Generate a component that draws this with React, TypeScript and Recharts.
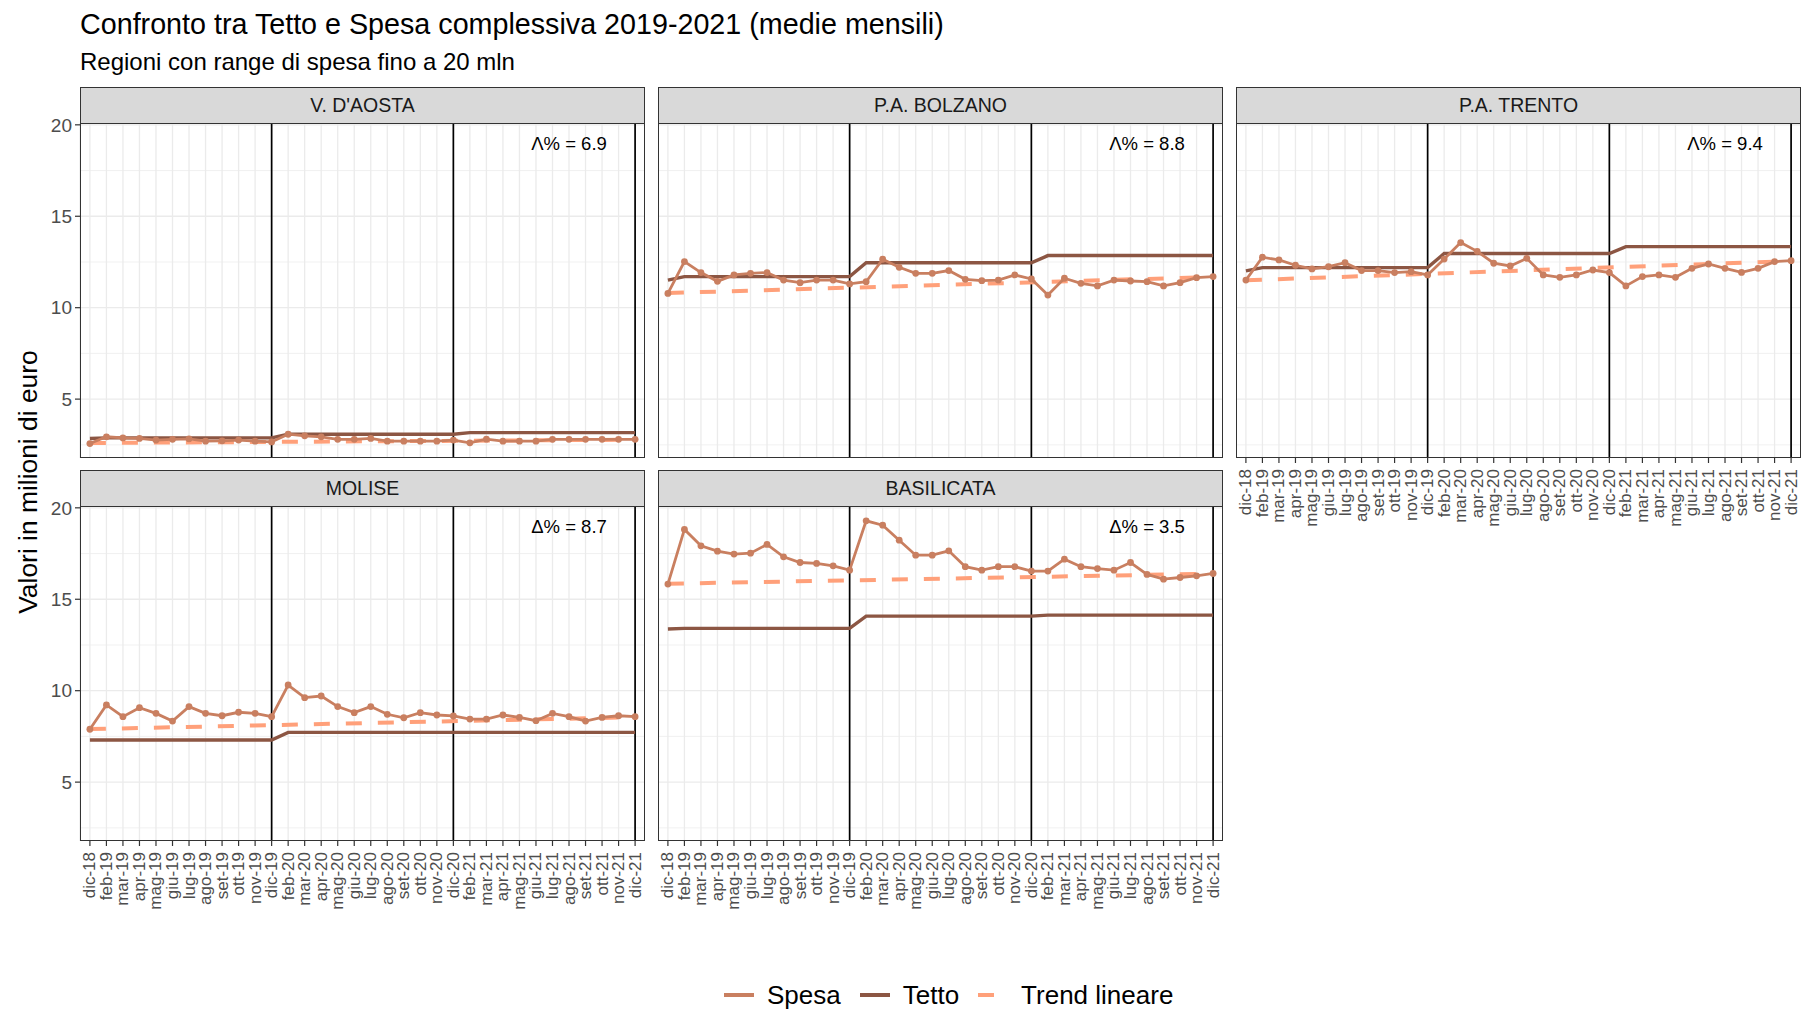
import React from 'react';
import { LineChart, Line, XAxis, YAxis, CartesianGrid, ReferenceLine, ReferenceDot } from 'recharts';

// Mesi sull'asse x (gennaio assente nei dati)
const months = [
  'dic-18', 'feb-19', 'mar-19', 'apr-19', 'mag-19', 'giu-19', 'lug-19', 'ago-19', 'set-19', 'ott-19', 'nov-19', 'dic-19',
  'feb-20', 'mar-20', 'apr-20', 'mag-20', 'giu-20', 'lug-20', 'ago-20', 'set-20', 'ott-20', 'nov-20', 'dic-20',
  'feb-21', 'mar-21', 'apr-21', 'mag-21', 'giu-21', 'lug-21', 'ago-21', 'set-21', 'ott-21', 'nov-21', 'dic-21',
];

const yearEnds = ['dic-19', 'dic-20', 'dic-21'];
const yTicks = [5, 10, 15, 20];
const yMinor = [2.5, 7.5, 12.5, 17.5];

// V. D'AOSTA
const vdaSpesa = [2.57, 2.94, 2.88, 2.85, 2.76, 2.8, 2.83, 2.7, 2.72, 2.76, 2.7, 2.66,
  3.08, 2.99, 2.94, 2.8, 2.8, 2.85, 2.7, 2.7, 2.7, 2.7, 2.76,
  2.61, 2.81, 2.7, 2.7, 2.7, 2.8, 2.8, 2.8, 2.8, 2.8, 2.8];
const vdaTetto = [2.85, 2.88, 2.88, 2.88, 2.88, 2.88, 2.88, 2.88, 2.88, 2.88, 2.88, 2.88,
  3.08, 3.08, 3.08, 3.08, 3.08, 3.08, 3.08, 3.08, 3.08, 3.08, 3.08,
  3.17, 3.17, 3.17, 3.17, 3.17, 3.17, 3.17, 3.17, 3.17, 3.17, 3.17];
const vdaTrend = [2.6, 2.78];

// P.A. BOLZANO
const bzSpesa = [10.78, 12.52, 11.92, 11.44, 11.79, 11.88, 11.92, 11.51, 11.37, 11.51, 11.51, 11.3,
  11.42, 12.65, 12.21, 11.88, 11.88, 12.03, 11.55, 11.48, 11.51, 11.79, 11.57,
  10.69, 11.61, 11.33, 11.19, 11.51, 11.46, 11.42, 11.19, 11.37, 11.64, 11.7];
const bzTetto = [11.51, 11.7, 11.7, 11.7, 11.7, 11.7, 11.7, 11.7, 11.7, 11.7, 11.7, 11.7,
  12.46, 12.46, 12.46, 12.46, 12.46, 12.46, 12.46, 12.46, 12.46, 12.46, 12.46,
  12.85, 12.85, 12.85, 12.85, 12.85, 12.85, 12.85, 12.85, 12.85, 12.85, 12.85];
const bzTrend = [10.8, 11.68];

// P.A. TRENTO
const tnSpesa = [11.51, 12.76, 12.61, 12.32, 12.12, 12.24, 12.46, 12.03, 12.03, 11.92, 11.97, 11.79,
  12.66, 13.56, 13.08, 12.43, 12.28, 12.7, 11.79, 11.66, 11.79, 12.06, 11.92,
  11.19, 11.7, 11.79, 11.66, 12.15, 12.39, 12.15, 11.93, 12.15, 12.52, 12.57];
const tnTetto = [12.01, 12.19, 12.19, 12.19, 12.19, 12.19, 12.19, 12.19, 12.19, 12.19, 12.19, 12.19,
  12.96, 12.96, 12.96, 12.96, 12.96, 12.96, 12.96, 12.96, 12.96, 12.96, 12.96,
  13.34, 13.34, 13.34, 13.34, 13.34, 13.34, 13.34, 13.34, 13.34, 13.34, 13.34];
const tnTrend = [11.5, 12.55];

// MOLISE
const moSpesa = [7.89, 9.22, 8.58, 9.07, 8.76, 8.34, 9.13, 8.76, 8.63, 8.82, 8.76, 8.58,
  10.31, 9.62, 9.71, 9.13, 8.8, 9.13, 8.71, 8.52, 8.8, 8.67, 8.62,
  8.45, 8.45, 8.67, 8.54, 8.36, 8.76, 8.58, 8.34, 8.54, 8.63, 8.58];
const moTetto = [7.3, 7.3, 7.3, 7.3, 7.3, 7.3, 7.3, 7.3, 7.3, 7.3, 7.3, 7.3,
  7.72, 7.72, 7.72, 7.72, 7.72, 7.72, 7.72, 7.72, 7.72, 7.72, 7.72,
  7.72, 7.72, 7.72, 7.72, 7.72, 7.72, 7.72, 7.72, 7.72, 7.72, 7.72];
const moTrend = [7.9, 8.55];

// BASILICATA
const baSpesa = [15.83, 18.82, 17.92, 17.63, 17.47, 17.52, 18.0, 17.32, 17.01, 16.96, 16.83, 16.59,
  19.29, 19.05, 18.23, 17.41, 17.41, 17.65, 16.78, 16.59, 16.78, 16.78, 16.54,
  16.54, 17.19, 16.78, 16.68, 16.59, 17.01, 16.36, 16.1, 16.19, 16.28, 16.41];
const baTetto = [13.37, 13.41, 13.41, 13.41, 13.41, 13.41, 13.41, 13.41, 13.41, 13.41, 13.41, 13.41,
  14.08, 14.08, 14.08, 14.08, 14.08, 14.08, 14.08, 14.08, 14.08, 14.08, 14.08,
  14.13, 14.13, 14.13, 14.13, 14.13, 14.13, 14.13, 14.13, 14.13, 14.13, 14.13];
const baTrend = [15.85, 16.4];

const SPESA = '#C97F60';
const TETTO = '#8C5643';
const TREND = '#FFA07A';
const FONT = '"Liberation Sans", Arial, sans-serif';

const PANEL_W = 565;
const PANEL_H = 335;
const STRIP_H = 36;
const Y_W = 80;
const X_H = 75;
const TOP_PAD = 14;

interface PanelDef {
  name: string;
  spesa: number[];
  tetto: number[];
  trend: number[];
  delta: string;
  col: number;
  row: number;
  bottom: boolean;
}

const panels: PanelDef[] = [
  { name: "V. D'AOSTA", spesa: vdaSpesa, tetto: vdaTetto, trend: vdaTrend, delta: 'Λ% = 6.9', col: 0, row: 0, bottom: false },
  { name: 'P.A. BOLZANO', spesa: bzSpesa, tetto: bzTetto, trend: bzTrend, delta: 'Λ% = 8.8', col: 1, row: 0, bottom: false },
  { name: 'P.A. TRENTO', spesa: tnSpesa, tetto: tnTetto, trend: tnTrend, delta: 'Λ% = 9.4', col: 2, row: 0, bottom: true },
  { name: 'MOLISE', spesa: moSpesa, tetto: moTetto, trend: moTrend, delta: 'Δ% = 8.7', col: 0, row: 1, bottom: true },
  { name: 'BASILICATA', spesa: baSpesa, tetto: baTetto, trend: baTrend, delta: 'Δ% = 3.5', col: 1, row: 1, bottom: true },
];

const colX = [80, 658, 1236];
const rowY = [123, 506];

const MonthTick = (props: any) => {
  const { x, y, payload } = props;
  return (
    <text
      transform={`translate(${x},${y + 4}) rotate(-90)`}
      textAnchor="end"
      dominantBaseline="central"
      fontSize={17}
      fill="#4D4D4D"
      fontFamily={FONT}
    >
      {payload.value}
    </text>
  );
};

function Panel({ p }: { p: PanelDef }) {
  const isLeft = p.col === 0;
  const last = months.length - 1;
  const data = months.map((m, i) => ({
    month: m,
    spesa: p.spesa[i],
    tetto: p.tetto[i],
    trend: i === 0 ? p.trend[0] : i === last ? p.trend[1] : null,
  }));
  const left = colX[p.col];
  const top = rowY[p.row];
  const chartW = PANEL_W + (isLeft ? Y_W : 0);
  const chartH = PANEL_H + TOP_PAD + (p.bottom ? X_H : 0);

  return (
    <>
      <div style={{ position: 'absolute', left: left - (isLeft ? Y_W : 0), top: top - TOP_PAD }}>
        <LineChart width={chartW} height={chartH} data={data} margin={{ top: TOP_PAD, right: 0, bottom: 0, left: 0 }}>
          <CartesianGrid vertical={false} horizontalValues={yMinor} stroke="#EBEBEB" strokeWidth={0.7} />
          <CartesianGrid horizontal={false} stroke="#EBEBEB" strokeWidth={1.3} />
          <CartesianGrid vertical={false} horizontalValues={yTicks} stroke="#EBEBEB" strokeWidth={1.3} />
          <XAxis
            dataKey="month"
            type="category"
            interval={0}
            hide={!p.bottom}
            height={p.bottom ? X_H : 0}
            padding={{ left: 9.9, right: 9.9 }}
            axisLine={false}
            tickLine={{ stroke: '#333', strokeWidth: 1.2 }}
            tickSize={5}
            tickMargin={2}
            tick={<MonthTick />}
          />
          <YAxis
            type="number"
            domain={[1.78, 20.1]}
            ticks={yTicks}
            allowDataOverflow
            hide={!isLeft}
            width={isLeft ? Y_W : 0}
            axisLine={false}
            tickLine={{ stroke: '#333', strokeWidth: 1.2 }}
            tickSize={5}
            tickMargin={3}
            tick={{ fontSize: 19, fill: '#4D4D4D', fontFamily: FONT }}
          />
          {yearEnds.map((m) => (
            <ReferenceLine key={m} x={m} stroke="#000" strokeWidth={1.7} />
          ))}
          <Line type="linear" dataKey="tetto" stroke={TETTO} strokeWidth={3.4} dot={false} isAnimationActive={false} />
          <Line
            type="linear"
            dataKey="trend"
            stroke={TREND}
            strokeWidth={4}
            strokeDasharray="16 16"
            connectNulls
            dot={false}
            isAnimationActive={false}
          />
          <Line
            type="linear"
            dataKey="spesa"
            stroke={SPESA}
            strokeWidth={2.8}
            dot={{ r: 3.4, fill: SPESA, stroke: 'none' }}
            isAnimationActive={false}
          />
          <ReferenceDot
            x="ago-21"
            y={19}
            r={0}
            fill="none"
            stroke="none"
            label={{ value: p.delta, position: 'center', fill: '#000', fontSize: 18.5, fontFamily: FONT }}
          />
        </LineChart>
      </div>
      {/* strip */}
      <div
        style={{
          position: 'absolute',
          left,
          top: top - STRIP_H,
          width: PANEL_W,
          height: STRIP_H,
          boxSizing: 'border-box',
          background: '#D9D9D9',
          border: '1.3px solid #333',
          borderBottom: 'none',
          display: 'flex',
          alignItems: 'center',
          justifyContent: 'center',
          fontSize: 19.5,
          color: '#1A1A1A',
        }}
      >
        {p.name}
      </div>
      {/* panel border */}
      <div
        style={{
          position: 'absolute',
          left,
          top,
          width: PANEL_W,
          height: PANEL_H,
          boxSizing: 'border-box',
          border: '1.3px solid #333',
          pointerEvents: 'none',
        }}
      />
    </>
  );
}

const legendItems = [
  { label: 'Spesa', color: SPESA, dash: undefined as string | undefined },
  { label: 'Tetto', color: TETTO, dash: undefined as string | undefined },
  { label: 'Trend lineare', color: TREND, dash: '16 16' },
];

export default function App() {
  return (
    <div
      style={{
        position: 'absolute',
        left: 0,
        top: 0,
        width: 1803,
        height: 1009,
        background: '#fff',
        fontFamily: FONT,
        overflow: 'hidden',
      }}
    >
      <div style={{ position: 'absolute', left: 80, top: 10, fontSize: 28.7, lineHeight: 1, color: '#000', whiteSpace: 'nowrap' }}>
        Confronto tra Tetto e Spesa complessiva 2019-2021 (medie mensili)
      </div>
      <div style={{ position: 'absolute', left: 80, top: 50, fontSize: 24, lineHeight: 1, color: '#000', whiteSpace: 'nowrap' }}>
        Regioni con range di spesa fino a 20 mln
      </div>
      <div
        style={{
          position: 'absolute',
          left: 28,
          top: 482,
          transform: 'translate(-50%, -50%) rotate(-90deg)',
          fontSize: 26.4,
          lineHeight: 1,
          whiteSpace: 'nowrap',
          color: '#000',
        }}
      >
        Valori in milioni di euro
      </div>

      {panels.map((p) => (
        <Panel key={p.name} p={p} />
      ))}

      <div
        style={{
          position: 'absolute',
          left: 724,
          top: 980,
          height: 30,
          display: 'flex',
          alignItems: 'center',
          fontSize: 26,
          color: '#000',
        }}
      >
        {legendItems.map((it) => (
          <div key={it.label} style={{ display: 'flex', alignItems: 'center', marginRight: 19 }}>
            <svg width={30} height={10} style={{ marginRight: 13 }}>
              <line x1={0} y1={5} x2={30} y2={5} stroke={it.color} strokeWidth={4} strokeDasharray={it.dash} />
            </svg>
            <span>{it.label}</span>
          </div>
        ))}
      </div>
    </div>
  );
}
